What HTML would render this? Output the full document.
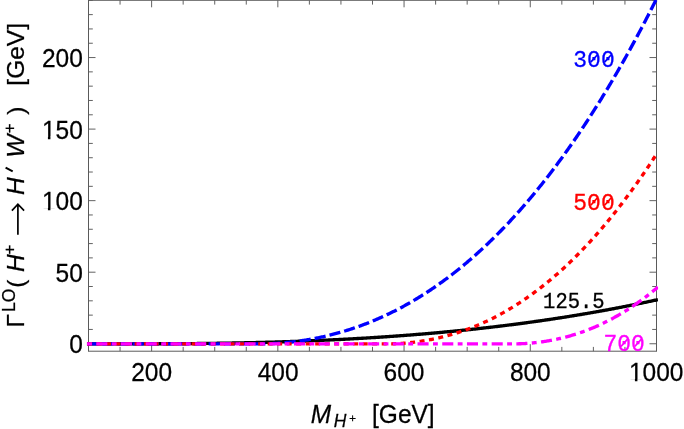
<!DOCTYPE html>
<html><head><title>Chart</title><meta charset="utf-8"><style>html,body{margin:0;padding:0;background:#fff}svg{display:block;will-change:transform}</style></head><body><svg width="684" height="429" viewBox="0 0 684 429">
<rect width="684" height="429" fill="#fff"/>
<path d="M88.50,351.20v-4.30M88.50,0.30v4.30M120.06,351.20v-4.30M120.06,0.30v4.30M151.61,351.20v-7.00M151.61,0.30v7.00M183.17,351.20v-4.30M183.17,0.30v4.30M214.72,351.20v-4.30M214.72,0.30v4.30M246.28,351.20v-4.30M246.28,0.30v4.30M277.83,351.20v-7.00M277.83,0.30v7.00M309.39,351.20v-4.30M309.39,0.30v4.30M340.94,351.20v-4.30M340.94,0.30v4.30M372.50,351.20v-4.30M372.50,0.30v4.30M404.06,351.20v-7.00M404.06,0.30v7.00M435.61,351.20v-4.30M435.61,0.30v4.30M467.17,351.20v-4.30M467.17,0.30v4.30M498.72,351.20v-4.30M498.72,0.30v4.30M530.28,351.20v-7.00M530.28,0.30v7.00M561.83,351.20v-4.30M561.83,0.30v4.30M593.39,351.20v-4.30M593.39,0.30v4.30M624.94,351.20v-4.30M624.94,0.30v4.30M656.50,351.20v-7.00M656.50,0.30v7.00M88.50,343.75h7.00M656.50,343.75h-7.00M88.50,329.44h4.30M656.50,329.44h-4.30M88.50,315.13h4.30M656.50,315.13h-4.30M88.50,300.82h4.30M656.50,300.82h-4.30M88.50,286.51h4.30M656.50,286.51h-4.30M88.50,272.20h7.00M656.50,272.20h-7.00M88.50,257.89h4.30M656.50,257.89h-4.30M88.50,243.58h4.30M656.50,243.58h-4.30M88.50,229.27h4.30M656.50,229.27h-4.30M88.50,214.96h4.30M656.50,214.96h-4.30M88.50,200.65h7.00M656.50,200.65h-7.00M88.50,186.34h4.30M656.50,186.34h-4.30M88.50,172.03h4.30M656.50,172.03h-4.30M88.50,157.72h4.30M656.50,157.72h-4.30M88.50,143.41h4.30M656.50,143.41h-4.30M88.50,129.10h7.00M656.50,129.10h-7.00M88.50,114.79h4.30M656.50,114.79h-4.30M88.50,100.48h4.30M656.50,100.48h-4.30M88.50,86.17h4.30M656.50,86.17h-4.30M88.50,71.86h4.30M656.50,71.86h-4.30M88.50,57.55h7.00M656.50,57.55h-7.00M88.50,43.24h4.30M656.50,43.24h-4.30M88.50,28.93h4.30M656.50,28.93h-4.30M88.50,14.62h4.30M656.50,14.62h-4.30M88.50,0.31h4.30M656.50,0.31h-4.30" stroke="#5a5a5a" stroke-width="0.95" fill="none"/>
<rect x="88.50" y="0.30" width="568.00" height="350.90" fill="none" stroke="#5a5a5a" stroke-width="1"/>
<clipPath id="c"><rect x="86.50" y="0" width="571.60" height="351.20"/></clipPath>
<g clip-path="url(#c)" fill="none" stroke-width="3.35">
<path d="M86.90,343.80 L87.85,343.80 L88.80,343.80 L89.76,343.80 L90.71,343.80 L91.66,343.80 L92.61,343.80 L93.56,343.80 L94.51,343.80 L95.47,343.80 L96.42,343.80 L97.37,343.80 L98.32,343.80 L99.27,343.80 L100.22,343.80 L101.18,343.80 L102.13,343.80 L103.08,343.80 L104.03,343.80 L104.98,343.80 L105.93,343.80 L106.89,343.80 L107.84,343.80 L108.79,343.80 L109.74,343.80 L110.69,343.80 L111.64,343.80 L112.59,343.80 L113.55,343.80 L114.50,343.80 L115.45,343.80 L116.40,343.80 L117.35,343.80 L118.31,343.80 L119.26,343.80 L120.21,343.80 L121.16,343.80 L122.11,343.80 L123.06,343.80 L124.02,343.80 L124.97,343.80 L125.92,343.80 L126.87,343.80 L127.82,343.80 L128.77,343.80 L129.73,343.80 L130.68,343.80 L131.63,343.80 L132.58,343.80 L133.53,343.80 L134.48,343.80 L135.44,343.80 L136.39,343.80 L137.34,343.80 L138.29,343.80 L139.24,343.80 L140.19,343.80 L141.15,343.80 L142.10,343.80 L143.05,343.80 L144.00,343.80 L144.95,343.80 L145.90,343.80 L146.86,343.80 L147.81,343.80 L148.76,343.80 L149.71,343.80 L150.66,343.80 L151.61,343.80 L152.56,343.80 L153.52,343.80 L154.47,343.80 L155.42,343.80 L156.37,343.80 L157.32,343.80 L158.28,343.80 L159.23,343.79 L160.18,343.79 L161.13,343.79 L162.08,343.79 L163.03,343.78 L163.99,343.78 L164.94,343.78 L165.89,343.77 L166.84,343.77 L167.79,343.77 L168.74,343.76 L169.69,343.76 L170.65,343.75 L171.60,343.75 L172.55,343.74 L173.50,343.74 L174.45,343.73 L175.41,343.73 L176.36,343.72 L177.31,343.71 L178.26,343.71 L179.21,343.70 L180.16,343.69 L181.12,343.69 L182.07,343.68 L183.02,343.67 L183.97,343.67 L184.92,343.66 L185.87,343.65 L186.82,343.64 L187.78,343.64 L188.73,343.63 L189.68,343.62 L190.63,343.61 L191.58,343.60 L192.54,343.59 L193.49,343.58 L194.44,343.57 L195.39,343.56 L196.34,343.55 L197.29,343.54 L198.25,343.53 L199.20,343.52 L200.15,343.51 L201.10,343.50 L202.05,343.49 L203.00,343.48 L203.96,343.47 L204.91,343.46 L205.86,343.45 L206.81,343.43 L207.76,343.42 L208.71,343.41 L209.67,343.40 L210.62,343.39 L211.57,343.37 L212.52,343.36 L213.47,343.35 L214.42,343.33 L215.38,343.32 L216.33,343.31 L217.28,343.29 L218.23,343.28 L219.18,343.26 L220.13,343.25 L221.09,343.23 L222.04,343.22 L222.99,343.20 L223.94,343.19 L224.89,343.17 L225.84,343.16 L226.80,343.14 L227.75,343.12 L228.70,343.11 L229.65,343.09 L230.60,343.07 L231.55,343.06 L232.50,343.04 L233.46,343.02 L234.41,343.00 L235.36,342.98 L236.31,342.97 L237.26,342.95 L238.22,342.93 L239.17,342.91 L240.12,342.89 L241.07,342.87 L242.02,342.85 L242.97,342.83 L243.93,342.81 L244.88,342.79 L245.83,342.77 L246.78,342.75 L247.73,342.73 L248.68,342.71 L249.64,342.69 L250.59,342.67 L251.54,342.64 L252.49,342.62 L253.44,342.60 L254.39,342.58 L255.34,342.55 L256.30,342.53 L257.25,342.51 L258.20,342.48 L259.15,342.46 L260.10,342.44 L261.06,342.41 L262.01,342.39 L262.96,342.36 L263.91,342.34 L264.86,342.31 L265.81,342.29 L266.76,342.26 L267.72,342.23 L268.67,342.21 L269.62,342.18 L270.57,342.15 L271.52,342.13 L272.48,342.10 L273.43,342.07 L274.38,342.05 L275.33,342.02 L276.28,341.99 L277.23,341.96 L278.19,341.93 L279.14,341.90 L280.09,341.87 L281.04,341.84 L281.99,341.81 L282.94,341.78 L283.89,341.75 L284.85,341.72 L285.80,341.69 L286.75,341.66 L287.70,341.63 L288.65,341.60 L289.61,341.56 L290.56,341.53 L291.51,341.50 L292.46,341.47 L293.41,341.43 L294.36,341.40 L295.31,341.37 L296.27,341.33 L297.22,341.30 L298.17,341.26 L299.12,341.23 L300.07,341.19 L301.02,341.16 L301.98,341.12 L302.93,341.09 L303.88,341.05 L304.83,341.02 L305.78,340.98 L306.74,340.94 L307.69,340.90 L308.64,340.87 L309.59,340.83 L310.54,340.79 L311.49,340.75 L312.44,340.71 L313.40,340.67 L314.35,340.63 L315.30,340.60 L316.25,340.56 L317.20,340.52 L318.15,340.47 L319.11,340.43 L320.06,340.39 L321.01,340.35 L321.96,340.31 L322.91,340.27 L323.87,340.22 L324.82,340.18 L325.77,340.14 L326.72,340.10 L327.67,340.05 L328.62,340.01 L329.58,339.96 L330.53,339.92 L331.48,339.88 L332.43,339.83 L333.38,339.78 L334.33,339.74 L335.28,339.69 L336.24,339.65 L337.19,339.60 L338.14,339.55 L339.09,339.51 L340.04,339.46 L341.00,339.41 L341.95,339.36 L342.90,339.31 L343.85,339.26 L344.80,339.21 L345.75,339.16 L346.71,339.11 L347.66,339.06 L348.61,339.01 L349.56,338.96 L350.51,338.91 L351.46,338.86 L352.41,338.81 L353.37,338.76 L354.32,338.70 L355.27,338.65 L356.22,338.60 L357.17,338.54 L358.12,338.49 L359.08,338.44 L360.03,338.38 L360.98,338.33 L361.93,338.27 L362.88,338.22 L363.84,338.16 L364.79,338.10 L365.74,338.05 L366.69,337.99 L367.64,337.93 L368.59,337.87 L369.54,337.82 L370.50,337.76 L371.45,337.70 L372.40,337.64 L373.35,337.58 L374.30,337.52 L375.25,337.46 L376.21,337.40 L377.16,337.34 L378.11,337.28 L379.06,337.22 L380.01,337.15 L380.97,337.09 L381.92,337.03 L382.87,336.97 L383.82,336.90 L384.77,336.84 L385.72,336.77 L386.67,336.71 L387.63,336.64 L388.58,336.58 L389.53,336.51 L390.48,336.45 L391.43,336.38 L392.38,336.31 L393.34,336.25 L394.29,336.18 L395.24,336.11 L396.19,336.04 L397.14,335.98 L398.10,335.91 L399.05,335.84 L400.00,335.77 L400.95,335.70 L401.90,335.63 L402.85,335.56 L403.80,335.48 L404.76,335.41 L405.71,335.34 L406.66,335.27 L407.61,335.20 L408.56,335.12 L409.51,335.05 L410.47,334.97 L411.42,334.90 L412.37,334.83 L413.32,334.75 L414.27,334.67 L415.23,334.60 L416.18,334.52 L417.13,334.45 L418.08,334.37 L419.03,334.29 L419.98,334.21 L420.94,334.13 L421.89,334.06 L422.84,333.98 L423.79,333.90 L424.74,333.82 L425.69,333.74 L426.64,333.66 L427.60,333.57 L428.55,333.49 L429.50,333.41 L430.45,333.33 L431.40,333.25 L432.36,333.16 L433.31,333.08 L434.26,332.99 L435.21,332.91 L436.16,332.83 L437.11,332.74 L438.07,332.65 L439.02,332.57 L439.97,332.48 L440.92,332.39 L441.87,332.31 L442.82,332.22 L443.77,332.13 L444.73,332.04 L445.68,331.95 L446.63,331.86 L447.58,331.77 L448.53,331.68 L449.49,331.59 L450.44,331.50 L451.39,331.41 L452.34,331.32 L453.29,331.22 L454.24,331.13 L455.20,331.04 L456.15,330.94 L457.10,330.85 L458.05,330.76 L459.00,330.66 L459.95,330.56 L460.90,330.47 L461.86,330.37 L462.81,330.27 L463.76,330.18 L464.71,330.08 L465.66,329.98 L466.62,329.88 L467.57,329.78 L468.52,329.68 L469.47,329.58 L470.42,329.48 L471.37,329.38 L472.33,329.28 L473.28,329.18 L474.23,329.08 L475.18,328.97 L476.13,328.87 L477.08,328.77 L478.03,328.66 L478.99,328.56 L479.94,328.45 L480.89,328.35 L481.84,328.24 L482.79,328.13 L483.75,328.03 L484.70,327.92 L485.65,327.81 L486.60,327.70 L487.55,327.59 L488.50,327.49 L489.46,327.38 L490.41,327.27 L491.36,327.15 L492.31,327.04 L493.26,326.93 L494.21,326.82 L495.16,326.71 L496.12,326.59 L497.07,326.48 L498.02,326.37 L498.97,326.25 L499.92,326.14 L500.88,326.02 L501.83,325.90 L502.78,325.79 L503.73,325.67 L504.68,325.55 L505.63,325.44 L506.59,325.32 L507.54,325.20 L508.49,325.08 L509.44,324.96 L510.39,324.84 L511.34,324.72 L512.29,324.60 L513.25,324.47 L514.20,324.35 L515.15,324.23 L516.10,324.11 L517.05,323.98 L518.00,323.86 L518.96,323.73 L519.91,323.61 L520.86,323.48 L521.81,323.36 L522.76,323.23 L523.72,323.10 L524.67,322.97 L525.62,322.85 L526.57,322.72 L527.52,322.59 L528.47,322.46 L529.42,322.33 L530.38,322.20 L531.33,322.06 L532.28,321.93 L533.23,321.80 L534.18,321.67 L535.13,321.53 L536.09,321.40 L537.04,321.26 L537.99,321.13 L538.94,320.99 L539.89,320.86 L540.85,320.72 L541.80,320.58 L542.75,320.45 L543.70,320.31 L544.65,320.17 L545.60,320.03 L546.55,319.89 L547.51,319.75 L548.46,319.61 L549.41,319.47 L550.36,319.33 L551.31,319.18 L552.26,319.04 L553.22,318.90 L554.17,318.75 L555.12,318.61 L556.07,318.46 L557.02,318.32 L557.98,318.17 L558.93,318.02 L559.88,317.88 L560.83,317.73 L561.78,317.58 L562.73,317.43 L563.69,317.28 L564.64,317.13 L565.59,316.98 L566.54,316.83 L567.49,316.68 L568.44,316.53 L569.39,316.37 L570.35,316.22 L571.30,316.07 L572.25,315.91 L573.20,315.76 L574.15,315.60 L575.11,315.45 L576.06,315.29 L577.01,315.13 L577.96,314.97 L578.91,314.82 L579.86,314.66 L580.82,314.50 L581.77,314.34 L582.72,314.18 L583.67,314.02 L584.62,313.85 L585.57,313.69 L586.52,313.53 L587.48,313.37 L588.43,313.20 L589.38,313.04 L590.33,312.87 L591.28,312.71 L592.24,312.54 L593.19,312.37 L594.14,312.21 L595.09,312.04 L596.04,311.87 L596.99,311.70 L597.95,311.53 L598.90,311.36 L599.85,311.19 L600.80,311.02 L601.75,310.85 L602.70,310.67 L603.65,310.50 L604.61,310.33 L605.56,310.15 L606.51,309.98 L607.46,309.80 L608.41,309.62 L609.37,309.45 L610.32,309.27 L611.27,309.09 L612.22,308.91 L613.17,308.73 L614.12,308.55 L615.07,308.37 L616.03,308.19 L616.98,308.01 L617.93,307.83 L618.88,307.65 L619.83,307.46 L620.78,307.28 L621.74,307.09 L622.69,306.91 L623.64,306.72 L624.59,306.54 L625.54,306.35 L626.50,306.16 L627.45,305.97 L628.40,305.79 L629.35,305.60 L630.30,305.41 L631.25,305.22 L632.20,305.02 L633.16,304.83 L634.11,304.64 L635.06,304.45 L636.01,304.25 L636.96,304.06 L637.91,303.86 L638.87,303.67 L639.82,303.47 L640.77,303.27 L641.72,303.08 L642.67,302.88 L643.62,302.68 L644.58,302.48 L645.53,302.28 L646.48,302.08 L647.43,301.88 L648.38,301.68 L649.33,301.47 L650.29,301.27 L651.24,301.07 L652.19,300.86 L653.14,300.66 L654.09,300.45 L655.04,300.25 L656.00,300.04 L656.95,299.83 L657.90,299.62" stroke="#000"/>
<path d="M86.90,343.80 L87.85,343.80 L88.80,343.80 L89.76,343.80 L90.71,343.80 L91.66,343.80 L92.61,343.80 L93.56,343.80 L94.51,343.80 L95.47,343.80 L96.42,343.80 L97.37,343.80 L98.32,343.80 L99.27,343.80 L100.22,343.80 L101.18,343.80 L102.13,343.80 L103.08,343.80 L104.03,343.80 L104.98,343.80 L105.93,343.80 L106.89,343.80 L107.84,343.80 L108.79,343.80 L109.74,343.80 L110.69,343.80 L111.64,343.80 L112.59,343.80 L113.55,343.80 L114.50,343.80 L115.45,343.80 L116.40,343.80 L117.35,343.80 L118.31,343.80 L119.26,343.80 L120.21,343.80 L121.16,343.80 L122.11,343.80 L123.06,343.80 L124.02,343.80 L124.97,343.80 L125.92,343.80 L126.87,343.80 L127.82,343.80 L128.77,343.80 L129.73,343.80 L130.68,343.80 L131.63,343.80 L132.58,343.80 L133.53,343.80 L134.48,343.80 L135.44,343.80 L136.39,343.80 L137.34,343.80 L138.29,343.80 L139.24,343.80 L140.19,343.80 L141.15,343.80 L142.10,343.80 L143.05,343.80 L144.00,343.80 L144.95,343.80 L145.90,343.80 L146.86,343.80 L147.81,343.80 L148.76,343.80 L149.71,343.80 L150.66,343.80 L151.61,343.80 L152.56,343.80 L153.52,343.80 L154.47,343.80 L155.42,343.80 L156.37,343.80 L157.32,343.80 L158.28,343.80 L159.23,343.80 L160.18,343.80 L161.13,343.80 L162.08,343.80 L163.03,343.80 L163.99,343.80 L164.94,343.80 L165.89,343.80 L166.84,343.80 L167.79,343.80 L168.74,343.80 L169.69,343.80 L170.65,343.80 L171.60,343.80 L172.55,343.80 L173.50,343.80 L174.45,343.80 L175.41,343.80 L176.36,343.80 L177.31,343.80 L178.26,343.80 L179.21,343.80 L180.16,343.80 L181.12,343.80 L182.07,343.80 L183.02,343.80 L183.97,343.80 L184.92,343.80 L185.87,343.80 L186.82,343.80 L187.78,343.80 L188.73,343.80 L189.68,343.80 L190.63,343.80 L191.58,343.80 L192.54,343.80 L193.49,343.80 L194.44,343.80 L195.39,343.80 L196.34,343.80 L197.29,343.80 L198.25,343.80 L199.20,343.80 L200.15,343.80 L201.10,343.80 L202.05,343.80 L203.00,343.80 L203.96,343.80 L204.91,343.80 L205.86,343.80 L206.81,343.80 L207.76,343.80 L208.71,343.80 L209.67,343.80 L210.62,343.80 L211.57,343.80 L212.52,343.80 L213.47,343.80 L214.42,343.80 L215.38,343.80 L216.33,343.80 L217.28,343.80 L218.23,343.80 L219.18,343.80 L220.13,343.80 L221.09,343.80 L222.04,343.80 L222.99,343.80 L223.94,343.80 L224.89,343.80 L225.84,343.80 L226.80,343.80 L227.75,343.80 L228.70,343.80 L229.65,343.80 L230.60,343.80 L231.55,343.80 L232.50,343.80 L233.46,343.80 L234.41,343.80 L235.36,343.80 L236.31,343.80 L237.26,343.80 L238.22,343.80 L239.17,343.80 L240.12,343.80 L241.07,343.80 L242.02,343.80 L242.97,343.80 L243.93,343.80 L244.88,343.80 L245.83,343.80 L246.78,343.80 L247.73,343.80 L248.68,343.80 L249.64,343.80 L250.59,343.80 L251.54,343.80 L252.49,343.80 L253.44,343.80 L254.39,343.80 L255.34,343.80 L256.30,343.80 L257.25,343.80 L258.20,343.80 L259.15,343.80 L260.10,343.80 L261.06,343.80 L262.01,343.80 L262.96,343.80 L263.91,343.80 L264.86,343.80 L265.81,343.80 L266.76,343.78 L267.72,343.76 L268.67,343.74 L269.62,343.71 L270.57,343.67 L271.52,343.63 L272.48,343.59 L273.43,343.54 L274.38,343.49 L275.33,343.44 L276.28,343.38 L277.23,343.32 L278.19,343.26 L279.14,343.19 L280.09,343.12 L281.04,343.05 L281.99,342.97 L282.94,342.89 L283.89,342.81 L284.85,342.72 L285.80,342.64 L286.75,342.54 L287.70,342.45 L288.65,342.35 L289.61,342.25 L290.56,342.15 L291.51,342.04 L292.46,341.93 L293.41,341.82 L294.36,341.70 L295.31,341.58 L296.27,341.46 L297.22,341.34 L298.17,341.21 L299.12,341.08 L300.07,340.94 L301.02,340.80 L301.98,340.66 L302.93,340.52 L303.88,340.37 L304.83,340.22 L305.78,340.07 L306.74,339.91 L307.69,339.75 L308.64,339.59 L309.59,339.43 L310.54,339.26 L311.49,339.09 L312.44,338.91 L313.40,338.73 L314.35,338.55 L315.30,338.37 L316.25,338.18 L317.20,337.99 L318.15,337.79 L319.11,337.60 L320.06,337.40 L321.01,337.19 L321.96,336.98 L322.91,336.77 L323.87,336.56 L324.82,336.34 L325.77,336.12 L326.72,335.90 L327.67,335.67 L328.62,335.44 L329.58,335.21 L330.53,334.97 L331.48,334.73 L332.43,334.49 L333.38,334.24 L334.33,333.99 L335.28,333.74 L336.24,333.49 L337.19,333.23 L338.14,332.96 L339.09,332.69 L340.04,332.42 L341.00,332.15 L341.95,331.87 L342.90,331.59 L343.85,331.31 L344.80,331.02 L345.75,330.73 L346.71,330.44 L347.66,330.14 L348.61,329.84 L349.56,329.53 L350.51,329.23 L351.46,328.92 L352.41,328.60 L353.37,328.28 L354.32,327.96 L355.27,327.63 L356.22,327.30 L357.17,326.97 L358.12,326.64 L359.08,326.30 L360.03,325.95 L360.98,325.60 L361.93,325.25 L362.88,324.90 L363.84,324.54 L364.79,324.18 L365.74,323.82 L366.69,323.45 L367.64,323.07 L368.59,322.70 L369.54,322.32 L370.50,321.93 L371.45,321.55 L372.40,321.16 L373.35,320.76 L374.30,320.36 L375.25,319.96 L376.21,319.56 L377.16,319.15 L378.11,318.73 L379.06,318.32 L380.01,317.90 L380.97,317.47 L381.92,317.04 L382.87,316.61 L383.82,316.18 L384.77,315.74 L385.72,315.29 L386.67,314.84 L387.63,314.39 L388.58,313.94 L389.53,313.48 L390.48,313.02 L391.43,312.55 L392.38,312.08 L393.34,311.61 L394.29,311.13 L395.24,310.65 L396.19,310.16 L397.14,309.67 L398.10,309.18 L399.05,308.68 L400.00,308.18 L400.95,307.67 L401.90,307.16 L402.85,306.65 L403.80,306.13 L404.76,305.61 L405.71,305.08 L406.66,304.55 L407.61,304.02 L408.56,303.48 L409.51,302.94 L410.47,302.39 L411.42,301.84 L412.37,301.29 L413.32,300.73 L414.27,300.17 L415.23,299.60 L416.18,299.03 L417.13,298.46 L418.08,297.88 L419.03,297.30 L419.98,296.71 L420.94,296.12 L421.89,295.52 L422.84,294.92 L423.79,294.32 L424.74,293.71 L425.69,293.10 L426.64,292.49 L427.60,291.86 L428.55,291.24 L429.50,290.61 L430.45,289.98 L431.40,289.34 L432.36,288.70 L433.31,288.05 L434.26,287.40 L435.21,286.75 L436.16,286.09 L437.11,285.43 L438.07,284.76 L439.02,284.09 L439.97,283.41 L440.92,282.73 L441.87,282.05 L442.82,281.36 L443.77,280.67 L444.73,279.97 L445.68,279.27 L446.63,278.56 L447.58,277.85 L448.53,277.14 L449.49,276.42 L450.44,275.69 L451.39,274.96 L452.34,274.23 L453.29,273.49 L454.24,272.75 L455.20,272.01 L456.15,271.26 L457.10,270.50 L458.05,269.74 L459.00,268.98 L459.95,268.21 L460.90,267.43 L461.86,266.66 L462.81,265.87 L463.76,265.09 L464.71,264.30 L465.66,263.50 L466.62,262.70 L467.57,261.89 L468.52,261.08 L469.47,260.27 L470.42,259.45 L471.37,258.63 L472.33,257.80 L473.28,256.97 L474.23,256.13 L475.18,255.29 L476.13,254.44 L477.08,253.59 L478.03,252.73 L478.99,251.87 L479.94,251.00 L480.89,250.13 L481.84,249.26 L482.79,248.38 L483.75,247.49 L484.70,246.60 L485.65,245.71 L486.60,244.81 L487.55,243.91 L488.50,243.00 L489.46,242.09 L490.41,241.17 L491.36,240.24 L492.31,239.32 L493.26,238.38 L494.21,237.45 L495.16,236.50 L496.12,235.56 L497.07,234.61 L498.02,233.65 L498.97,232.69 L499.92,231.72 L500.88,230.75 L501.83,229.77 L502.78,228.79 L503.73,227.80 L504.68,226.81 L505.63,225.82 L506.59,224.81 L507.54,223.81 L508.49,222.80 L509.44,221.78 L510.39,220.76 L511.34,219.73 L512.29,218.70 L513.25,217.67 L514.20,216.62 L515.15,215.58 L516.10,214.53 L517.05,213.47 L518.00,212.41 L518.96,211.34 L519.91,210.27 L520.86,209.19 L521.81,208.11 L522.76,207.02 L523.72,205.93 L524.67,204.83 L525.62,203.73 L526.57,202.62 L527.52,201.51 L528.47,200.39 L529.42,199.27 L530.38,198.14 L531.33,197.01 L532.28,195.87 L533.23,194.73 L534.18,193.58 L535.13,192.42 L536.09,191.26 L537.04,190.10 L537.99,188.93 L538.94,187.75 L539.89,186.57 L540.85,185.38 L541.80,184.19 L542.75,183.00 L543.70,181.79 L544.65,180.59 L545.60,179.37 L546.55,178.15 L547.51,176.93 L548.46,175.70 L549.41,174.47 L550.36,173.23 L551.31,171.98 L552.26,170.73 L553.22,169.48 L554.17,168.21 L555.12,166.95 L556.07,165.68 L557.02,164.40 L557.98,163.11 L558.93,161.83 L559.88,160.53 L560.83,159.23 L561.78,157.93 L562.73,156.62 L563.69,155.30 L564.64,153.98 L565.59,152.65 L566.54,151.32 L567.49,149.98 L568.44,148.64 L569.39,147.29 L570.35,145.93 L571.30,144.57 L572.25,143.20 L573.20,141.83 L574.15,140.45 L575.11,139.07 L576.06,137.68 L577.01,136.29 L577.96,134.89 L578.91,133.48 L579.86,132.07 L580.82,130.65 L581.77,129.23 L582.72,127.80 L583.67,126.37 L584.62,124.93 L585.57,123.48 L586.52,122.03 L587.48,120.57 L588.43,119.11 L589.38,117.64 L590.33,116.17 L591.28,114.69 L592.24,113.20 L593.19,111.71 L594.14,110.21 L595.09,108.71 L596.04,107.20 L596.99,105.68 L597.95,104.16 L598.90,102.63 L599.85,101.10 L600.80,99.56 L601.75,98.01 L602.70,96.46 L603.65,94.91 L604.61,93.34 L605.56,91.78 L606.51,90.20 L607.46,88.62 L608.41,87.04 L609.37,85.44 L610.32,83.84 L611.27,82.24 L612.22,80.63 L613.17,79.01 L614.12,77.39 L615.07,75.76 L616.03,74.13 L616.98,72.49 L617.93,70.84 L618.88,69.19 L619.83,67.53 L620.78,65.87 L621.74,64.19 L622.69,62.52 L623.64,60.83 L624.59,59.14 L625.54,57.45 L626.50,55.75 L627.45,54.04 L628.40,52.33 L629.35,50.61 L630.30,48.88 L631.25,47.15 L632.20,45.41 L633.16,43.66 L634.11,41.91 L635.06,40.16 L636.01,38.39 L636.96,36.62 L637.91,34.85 L638.87,33.06 L639.82,31.28 L640.77,29.48 L641.72,27.68 L642.67,25.87 L643.62,24.06 L644.58,22.24 L645.53,20.41 L646.48,18.58 L647.43,16.74 L648.38,14.90 L649.33,13.04 L650.29,11.19 L651.24,9.32 L652.19,7.45 L653.14,5.57 L654.09,3.69 L655.04,1.80 L656.00,-0.10 L656.95,-2.00 L657.90,-3.91" stroke="#00f" stroke-dasharray="11.2 4.0" stroke-dashoffset="-0.1"/>
<path d="M86.90,343.80 L87.85,343.80 L88.80,343.80 L89.75,343.80 L90.70,343.80 L91.65,343.80 L92.61,343.80 L93.56,343.80 L94.51,343.80 L95.46,343.80 L96.41,343.80 L97.36,343.80 L98.31,343.80 L99.26,343.80 L100.21,343.80 L101.16,343.80 L102.11,343.80 L103.06,343.80 L104.02,343.80 L104.97,343.80 L105.92,343.80 L106.87,343.80 L107.82,343.80 L108.77,343.80 L109.72,343.80 L110.67,343.80 L111.62,343.80 L112.57,343.80 L113.52,343.80 L114.47,343.80 L115.43,343.80 L116.38,343.80 L117.33,343.80 L118.28,343.80 L119.23,343.80 L120.18,343.80 L121.13,343.80 L122.08,343.80 L123.03,343.80 L123.98,343.80 L124.93,343.80 L125.88,343.80 L126.84,343.80 L127.79,343.80 L128.74,343.80 L129.69,343.80 L130.64,343.80 L131.59,343.80 L132.54,343.80 L133.49,343.80 L134.44,343.80 L135.39,343.80 L136.34,343.80 L137.29,343.80 L138.25,343.80 L139.20,343.80 L140.15,343.80 L141.10,343.80 L142.05,343.80 L143.00,343.80 L143.95,343.80 L144.90,343.80 L145.85,343.80 L146.80,343.80 L147.75,343.80 L148.70,343.80 L149.66,343.80 L150.61,343.80 L151.56,343.80 L152.51,343.80 L153.46,343.80 L154.41,343.80 L155.36,343.80 L156.31,343.80 L157.26,343.80 L158.21,343.80 L159.16,343.80 L160.11,343.80 L161.06,343.80 L162.02,343.80 L162.97,343.80 L163.92,343.80 L164.87,343.80 L165.82,343.80 L166.77,343.80 L167.72,343.80 L168.67,343.80 L169.62,343.80 L170.57,343.80 L171.52,343.80 L172.48,343.80 L173.43,343.80 L174.38,343.80 L175.33,343.80 L176.28,343.80 L177.23,343.80 L178.18,343.80 L179.13,343.80 L180.08,343.80 L181.03,343.80 L181.98,343.80 L182.93,343.80 L183.88,343.80 L184.84,343.80 L185.79,343.80 L186.74,343.80 L187.69,343.80 L188.64,343.80 L189.59,343.80 L190.54,343.80 L191.49,343.80 L192.44,343.80 L193.39,343.80 L194.34,343.80 L195.30,343.80 L196.25,343.80 L197.20,343.80 L198.15,343.80 L199.10,343.80 L200.05,343.80 L201.00,343.80 L201.95,343.80 L202.90,343.80 L203.85,343.80 L204.80,343.80 L205.75,343.80 L206.71,343.80 L207.66,343.80 L208.61,343.80 L209.56,343.80 L210.51,343.80 L211.46,343.80 L212.41,343.80 L213.36,343.80 L214.31,343.80 L215.26,343.80 L216.21,343.80 L217.16,343.80 L218.12,343.80 L219.07,343.80 L220.02,343.80 L220.97,343.80 L221.92,343.80 L222.87,343.80 L223.82,343.80 L224.77,343.80 L225.72,343.80 L226.67,343.80 L227.62,343.80 L228.57,343.80 L229.53,343.80 L230.48,343.80 L231.43,343.80 L232.38,343.80 L233.33,343.80 L234.28,343.80 L235.23,343.80 L236.18,343.80 L237.13,343.80 L238.08,343.80 L239.03,343.80 L239.98,343.80 L240.94,343.80 L241.89,343.80 L242.84,343.80 L243.79,343.80 L244.74,343.80 L245.69,343.80 L246.64,343.80 L247.59,343.80 L248.54,343.80 L249.49,343.80 L250.44,343.80 L251.39,343.80 L252.34,343.80 L253.30,343.80 L254.25,343.80 L255.20,343.80 L256.15,343.80 L257.10,343.80 L258.05,343.80 L259.00,343.80 L259.95,343.80 L260.90,343.80 L261.85,343.80 L262.80,343.80 L263.75,343.80 L264.71,343.80 L265.66,343.80 L266.61,343.80 L267.56,343.80 L268.51,343.80 L269.46,343.80 L270.41,343.80 L271.36,343.80 L272.31,343.80 L273.26,343.80 L274.21,343.80 L275.16,343.80 L276.12,343.80 L277.07,343.80 L278.02,343.80 L278.97,343.80 L279.92,343.80 L280.87,343.80 L281.82,343.80 L282.77,343.80 L283.72,343.80 L284.67,343.80 L285.62,343.80 L286.58,343.80 L287.53,343.80 L288.48,343.80 L289.43,343.80 L290.38,343.80 L291.33,343.80 L292.28,343.80 L293.23,343.80 L294.18,343.80 L295.13,343.80 L296.08,343.80 L297.03,343.80 L297.99,343.80 L298.94,343.80 L299.89,343.80 L300.84,343.80 L301.79,343.80 L302.74,343.80 L303.69,343.80 L304.64,343.80 L305.59,343.80 L306.54,343.80 L307.49,343.80 L308.44,343.80 L309.39,343.80 L310.35,343.80 L311.30,343.80 L312.25,343.80 L313.20,343.80 L314.15,343.80 L315.10,343.80 L316.05,343.80 L317.00,343.80 L317.95,343.80 L318.90,343.80 L319.85,343.80 L320.81,343.80 L321.76,343.80 L322.71,343.80 L323.66,343.80 L324.61,343.80 L325.56,343.80 L326.51,343.80 L327.46,343.80 L328.41,343.80 L329.36,343.80 L330.31,343.80 L331.26,343.80 L332.22,343.80 L333.17,343.80 L334.12,343.80 L335.07,343.80 L336.02,343.80 L336.97,343.80 L337.92,343.80 L338.87,343.80 L339.82,343.80 L340.77,343.80 L341.72,343.80 L342.67,343.80 L343.62,343.80 L344.58,343.80 L345.53,343.80 L346.48,343.80 L347.43,343.80 L348.38,343.80 L349.33,343.80 L350.28,343.80 L351.23,343.80 L352.18,343.80 L353.13,343.80 L354.08,343.80 L355.03,343.80 L355.99,343.80 L356.94,343.80 L357.89,343.80 L358.84,343.80 L359.79,343.80 L360.74,343.80 L361.69,343.80 L362.64,343.80 L363.59,343.80 L364.54,343.80 L365.49,343.80 L366.45,343.80 L367.40,343.80 L368.35,343.80 L369.30,343.80 L370.25,343.80 L371.20,343.80 L372.15,343.80 L373.10,343.80 L374.05,343.80 L375.00,343.80 L375.95,343.80 L376.90,343.80 L377.86,343.80 L378.81,343.80 L379.76,343.80 L380.71,343.80 L381.66,343.80 L382.61,343.80 L383.56,343.80 L384.51,343.80 L385.46,343.80 L386.41,343.80 L387.36,343.80 L388.31,343.80 L389.26,343.80 L390.22,343.80 L391.17,343.80 L392.12,343.80 L393.07,343.78 L394.02,343.76 L394.97,343.72 L395.92,343.69 L396.87,343.65 L397.82,343.60 L398.77,343.55 L399.72,343.50 L400.67,343.44 L401.63,343.38 L402.58,343.31 L403.53,343.24 L404.48,343.16 L405.43,343.08 L406.38,343.00 L407.33,342.91 L408.28,342.82 L409.23,342.73 L410.18,342.63 L411.13,342.53 L412.09,342.42 L413.04,342.31 L413.99,342.20 L414.94,342.08 L415.89,341.96 L416.84,341.84 L417.79,341.71 L418.74,341.57 L419.69,341.44 L420.64,341.30 L421.59,341.15 L422.54,341.00 L423.50,340.85 L424.45,340.69 L425.40,340.53 L426.35,340.37 L427.30,340.20 L428.25,340.03 L429.20,339.85 L430.15,339.67 L431.10,339.49 L432.05,339.30 L433.00,339.11 L433.95,338.91 L434.90,338.71 L435.86,338.50 L436.81,338.30 L437.76,338.08 L438.71,337.87 L439.66,337.64 L440.61,337.42 L441.56,337.19 L442.51,336.95 L443.46,336.72 L444.41,336.47 L445.36,336.23 L446.32,335.98 L447.27,335.72 L448.22,335.46 L449.17,335.20 L450.12,334.93 L451.07,334.66 L452.02,334.38 L452.97,334.10 L453.92,333.81 L454.87,333.52 L455.82,333.23 L456.77,332.93 L457.73,332.62 L458.68,332.32 L459.63,332.00 L460.58,331.69 L461.53,331.37 L462.48,331.04 L463.43,330.71 L464.38,330.38 L465.33,330.04 L466.28,329.69 L467.23,329.34 L468.18,328.99 L469.13,328.63 L470.09,328.27 L471.04,327.90 L471.99,327.53 L472.94,327.16 L473.89,326.78 L474.84,326.39 L475.79,326.00 L476.74,325.61 L477.69,325.21 L478.64,324.80 L479.59,324.39 L480.54,323.98 L481.50,323.56 L482.45,323.14 L483.40,322.71 L484.35,322.28 L485.30,321.84 L486.25,321.40 L487.20,320.95 L488.15,320.50 L489.10,320.04 L490.05,319.58 L491.00,319.11 L491.96,318.64 L492.91,318.16 L493.86,317.68 L494.81,317.20 L495.76,316.70 L496.71,316.21 L497.66,315.71 L498.61,315.20 L499.56,314.69 L500.51,314.17 L501.46,313.65 L502.41,313.13 L503.37,312.59 L504.32,312.06 L505.27,311.52 L506.22,310.97 L507.17,310.42 L508.12,309.86 L509.07,309.30 L510.02,308.73 L510.97,308.16 L511.92,307.59 L512.87,307.00 L513.82,306.42 L514.77,305.82 L515.73,305.23 L516.68,304.62 L517.63,304.02 L518.58,303.40 L519.53,302.78 L520.48,302.16 L521.43,301.53 L522.38,300.90 L523.33,300.26 L524.28,299.61 L525.23,298.96 L526.19,298.31 L527.14,297.65 L528.09,296.98 L529.04,296.31 L529.99,295.63 L530.94,294.95 L531.89,294.27 L532.84,293.57 L533.79,292.88 L534.74,292.17 L535.69,291.46 L536.64,290.75 L537.60,290.03 L538.55,289.31 L539.50,288.58 L540.45,287.84 L541.40,287.10 L542.35,286.35 L543.30,285.60 L544.25,284.84 L545.20,284.08 L546.15,283.31 L547.10,282.54 L548.05,281.76 L549.00,280.97 L549.96,280.18 L550.91,279.38 L551.86,278.58 L552.81,277.78 L553.76,276.96 L554.71,276.14 L555.66,275.32 L556.61,274.49 L557.56,273.65 L558.51,272.81 L559.46,271.97 L560.41,271.11 L561.37,270.26 L562.32,269.39 L563.27,268.52 L564.22,267.65 L565.17,266.77 L566.12,265.88 L567.07,264.99 L568.02,264.09 L568.97,263.19 L569.92,262.28 L570.87,261.36 L571.83,260.44 L572.78,259.52 L573.73,258.58 L574.68,257.64 L575.63,256.70 L576.58,255.75 L577.53,254.80 L578.48,253.83 L579.43,252.87 L580.38,251.89 L581.33,250.91 L582.28,249.93 L583.24,248.94 L584.19,247.94 L585.14,246.94 L586.09,245.93 L587.04,244.92 L587.99,243.89 L588.94,242.87 L589.89,241.84 L590.84,240.80 L591.79,239.75 L592.74,238.70 L593.69,237.65 L594.64,236.58 L595.60,235.52 L596.55,234.44 L597.50,233.36 L598.45,232.28 L599.40,231.18 L600.35,230.08 L601.30,228.98 L602.25,227.87 L603.20,226.75 L604.15,225.63 L605.10,224.50 L606.05,223.37 L607.01,222.23 L607.96,221.08 L608.91,219.92 L609.86,218.77 L610.81,217.60 L611.76,216.43 L612.71,215.25 L613.66,214.07 L614.61,212.88 L615.56,211.68 L616.51,210.48 L617.47,209.27 L618.42,208.05 L619.37,206.83 L620.32,205.60 L621.27,204.37 L622.22,203.13 L623.17,201.88 L624.12,200.63 L625.07,199.37 L626.02,198.10 L626.97,196.83 L627.92,195.55 L628.88,194.27 L629.83,192.98 L630.78,191.68 L631.73,190.38 L632.68,189.07 L633.63,187.75 L634.58,186.43 L635.53,185.10 L636.48,183.76 L637.43,182.42 L638.38,181.07 L639.33,179.72 L640.28,178.36 L641.24,176.99 L642.19,175.62 L643.14,174.24 L644.09,172.85 L645.04,171.46 L645.99,170.06 L646.94,168.65 L647.89,167.24 L648.84,165.82 L649.79,164.39 L650.74,162.96 L651.69,161.52 L652.65,160.07 L653.60,158.62 L654.55,157.16 L655.50,155.70 L656.45,154.22 L657.40,152.74" stroke="#f00" stroke-dasharray="5 4.503" stroke-dashoffset="-0.2"/>
<path d="M86.90,343.80 L87.85,343.80 L88.80,343.80 L89.76,343.80 L90.71,343.80 L91.66,343.80 L92.61,343.80 L93.56,343.80 L94.51,343.80 L95.47,343.80 L96.42,343.80 L97.37,343.80 L98.32,343.80 L99.27,343.80 L100.22,343.80 L101.18,343.80 L102.13,343.80 L103.08,343.80 L104.03,343.80 L104.98,343.80 L105.93,343.80 L106.89,343.80 L107.84,343.80 L108.79,343.80 L109.74,343.80 L110.69,343.80 L111.64,343.80 L112.59,343.80 L113.55,343.80 L114.50,343.80 L115.45,343.80 L116.40,343.80 L117.35,343.80 L118.31,343.80 L119.26,343.80 L120.21,343.80 L121.16,343.80 L122.11,343.80 L123.06,343.80 L124.02,343.80 L124.97,343.80 L125.92,343.80 L126.87,343.80 L127.82,343.80 L128.77,343.80 L129.73,343.80 L130.68,343.80 L131.63,343.80 L132.58,343.80 L133.53,343.80 L134.48,343.80 L135.44,343.80 L136.39,343.80 L137.34,343.80 L138.29,343.80 L139.24,343.80 L140.19,343.80 L141.15,343.80 L142.10,343.80 L143.05,343.80 L144.00,343.80 L144.95,343.80 L145.90,343.80 L146.86,343.80 L147.81,343.80 L148.76,343.80 L149.71,343.80 L150.66,343.80 L151.61,343.80 L152.56,343.80 L153.52,343.80 L154.47,343.80 L155.42,343.80 L156.37,343.80 L157.32,343.80 L158.28,343.80 L159.23,343.80 L160.18,343.80 L161.13,343.80 L162.08,343.80 L163.03,343.80 L163.99,343.80 L164.94,343.80 L165.89,343.80 L166.84,343.80 L167.79,343.80 L168.74,343.80 L169.69,343.80 L170.65,343.80 L171.60,343.80 L172.55,343.80 L173.50,343.80 L174.45,343.80 L175.41,343.80 L176.36,343.80 L177.31,343.80 L178.26,343.80 L179.21,343.80 L180.16,343.80 L181.12,343.80 L182.07,343.80 L183.02,343.80 L183.97,343.80 L184.92,343.80 L185.87,343.80 L186.82,343.80 L187.78,343.80 L188.73,343.80 L189.68,343.80 L190.63,343.80 L191.58,343.80 L192.54,343.80 L193.49,343.80 L194.44,343.80 L195.39,343.80 L196.34,343.80 L197.29,343.80 L198.25,343.80 L199.20,343.80 L200.15,343.80 L201.10,343.80 L202.05,343.80 L203.00,343.80 L203.96,343.80 L204.91,343.80 L205.86,343.80 L206.81,343.80 L207.76,343.80 L208.71,343.80 L209.67,343.80 L210.62,343.80 L211.57,343.80 L212.52,343.80 L213.47,343.80 L214.42,343.80 L215.38,343.80 L216.33,343.80 L217.28,343.80 L218.23,343.80 L219.18,343.80 L220.13,343.80 L221.09,343.80 L222.04,343.80 L222.99,343.80 L223.94,343.80 L224.89,343.80 L225.84,343.80 L226.80,343.80 L227.75,343.80 L228.70,343.80 L229.65,343.80 L230.60,343.80 L231.55,343.80 L232.50,343.80 L233.46,343.80 L234.41,343.80 L235.36,343.80 L236.31,343.80 L237.26,343.80 L238.22,343.80 L239.17,343.80 L240.12,343.80 L241.07,343.80 L242.02,343.80 L242.97,343.80 L243.93,343.80 L244.88,343.80 L245.83,343.80 L246.78,343.80 L247.73,343.80 L248.68,343.80 L249.64,343.80 L250.59,343.80 L251.54,343.80 L252.49,343.80 L253.44,343.80 L254.39,343.80 L255.34,343.80 L256.30,343.80 L257.25,343.80 L258.20,343.80 L259.15,343.80 L260.10,343.80 L261.06,343.80 L262.01,343.80 L262.96,343.80 L263.91,343.80 L264.86,343.80 L265.81,343.80 L266.76,343.80 L267.72,343.80 L268.67,343.80 L269.62,343.80 L270.57,343.80 L271.52,343.80 L272.48,343.80 L273.43,343.80 L274.38,343.80 L275.33,343.80 L276.28,343.80 L277.23,343.80 L278.19,343.80 L279.14,343.80 L280.09,343.80 L281.04,343.80 L281.99,343.80 L282.94,343.80 L283.89,343.80 L284.85,343.80 L285.80,343.80 L286.75,343.80 L287.70,343.80 L288.65,343.80 L289.61,343.80 L290.56,343.80 L291.51,343.80 L292.46,343.80 L293.41,343.80 L294.36,343.80 L295.31,343.80 L296.27,343.80 L297.22,343.80 L298.17,343.80 L299.12,343.80 L300.07,343.80 L301.02,343.80 L301.98,343.80 L302.93,343.80 L303.88,343.80 L304.83,343.80 L305.78,343.80 L306.74,343.80 L307.69,343.80 L308.64,343.80 L309.59,343.80 L310.54,343.80 L311.49,343.80 L312.44,343.80 L313.40,343.80 L314.35,343.80 L315.30,343.80 L316.25,343.80 L317.20,343.80 L318.15,343.80 L319.11,343.80 L320.06,343.80 L321.01,343.80 L321.96,343.80 L322.91,343.80 L323.87,343.80 L324.82,343.80 L325.77,343.80 L326.72,343.80 L327.67,343.80 L328.62,343.80 L329.58,343.80 L330.53,343.80 L331.48,343.80 L332.43,343.80 L333.38,343.80 L334.33,343.80 L335.28,343.80 L336.24,343.80 L337.19,343.80 L338.14,343.80 L339.09,343.80 L340.04,343.80 L341.00,343.80 L341.95,343.80 L342.90,343.80 L343.85,343.80 L344.80,343.80 L345.75,343.80 L346.71,343.80 L347.66,343.80 L348.61,343.80 L349.56,343.80 L350.51,343.80 L351.46,343.80 L352.41,343.80 L353.37,343.80 L354.32,343.80 L355.27,343.80 L356.22,343.80 L357.17,343.80 L358.12,343.80 L359.08,343.80 L360.03,343.80 L360.98,343.80 L361.93,343.80 L362.88,343.80 L363.84,343.80 L364.79,343.80 L365.74,343.80 L366.69,343.80 L367.64,343.80 L368.59,343.80 L369.54,343.80 L370.50,343.80 L371.45,343.80 L372.40,343.80 L373.35,343.80 L374.30,343.80 L375.25,343.80 L376.21,343.80 L377.16,343.80 L378.11,343.80 L379.06,343.80 L380.01,343.80 L380.97,343.80 L381.92,343.80 L382.87,343.80 L383.82,343.80 L384.77,343.80 L385.72,343.80 L386.67,343.80 L387.63,343.80 L388.58,343.80 L389.53,343.80 L390.48,343.80 L391.43,343.80 L392.38,343.80 L393.34,343.80 L394.29,343.80 L395.24,343.80 L396.19,343.80 L397.14,343.80 L398.10,343.80 L399.05,343.80 L400.00,343.80 L400.95,343.80 L401.90,343.80 L402.85,343.80 L403.80,343.80 L404.76,343.80 L405.71,343.80 L406.66,343.80 L407.61,343.80 L408.56,343.80 L409.51,343.80 L410.47,343.80 L411.42,343.80 L412.37,343.80 L413.32,343.80 L414.27,343.80 L415.23,343.80 L416.18,343.80 L417.13,343.80 L418.08,343.80 L419.03,343.80 L419.98,343.80 L420.94,343.80 L421.89,343.80 L422.84,343.80 L423.79,343.80 L424.74,343.80 L425.69,343.80 L426.64,343.80 L427.60,343.80 L428.55,343.80 L429.50,343.80 L430.45,343.80 L431.40,343.80 L432.36,343.80 L433.31,343.80 L434.26,343.80 L435.21,343.80 L436.16,343.80 L437.11,343.80 L438.07,343.80 L439.02,343.80 L439.97,343.80 L440.92,343.80 L441.87,343.80 L442.82,343.80 L443.77,343.80 L444.73,343.80 L445.68,343.80 L446.63,343.80 L447.58,343.80 L448.53,343.80 L449.49,343.80 L450.44,343.80 L451.39,343.80 L452.34,343.80 L453.29,343.80 L454.24,343.80 L455.20,343.80 L456.15,343.80 L457.10,343.80 L458.05,343.80 L459.00,343.80 L459.95,343.80 L460.90,343.80 L461.86,343.80 L462.81,343.80 L463.76,343.80 L464.71,343.80 L465.66,343.80 L466.62,343.80 L467.57,343.80 L468.52,343.80 L469.47,343.80 L470.42,343.80 L471.37,343.80 L472.33,343.80 L473.28,343.80 L474.23,343.80 L475.18,343.80 L476.13,343.80 L477.08,343.80 L478.03,343.80 L478.99,343.80 L479.94,343.80 L480.89,343.80 L481.84,343.80 L482.79,343.80 L483.75,343.80 L484.70,343.80 L485.65,343.80 L486.60,343.80 L487.55,343.80 L488.50,343.80 L489.46,343.80 L490.41,343.80 L491.36,343.80 L492.31,343.80 L493.26,343.80 L494.21,343.80 L495.16,343.80 L496.12,343.80 L497.07,343.80 L498.02,343.80 L498.97,343.80 L499.92,343.80 L500.88,343.80 L501.83,343.80 L502.78,343.80 L503.73,343.80 L504.68,343.80 L505.63,343.80 L506.59,343.80 L507.54,343.80 L508.49,343.80 L509.44,343.80 L510.39,343.80 L511.34,343.80 L512.29,343.80 L513.25,343.80 L514.20,343.80 L515.15,343.80 L516.10,343.80 L517.05,343.80 L518.00,343.80 L518.96,343.79 L519.91,343.76 L520.86,343.73 L521.81,343.70 L522.76,343.65 L523.72,343.61 L524.67,343.55 L525.62,343.50 L526.57,343.43 L527.52,343.37 L528.47,343.30 L529.42,343.22 L530.38,343.14 L531.33,343.06 L532.28,342.97 L533.23,342.88 L534.18,342.78 L535.13,342.68 L536.09,342.58 L537.04,342.47 L537.99,342.35 L538.94,342.23 L539.89,342.11 L540.85,341.98 L541.80,341.85 L542.75,341.72 L543.70,341.58 L544.65,341.43 L545.60,341.28 L546.55,341.13 L547.51,340.97 L548.46,340.81 L549.41,340.64 L550.36,340.47 L551.31,340.29 L552.26,340.11 L553.22,339.93 L554.17,339.74 L555.12,339.54 L556.07,339.35 L557.02,339.14 L557.98,338.93 L558.93,338.72 L559.88,338.50 L560.83,338.28 L561.78,338.05 L562.73,337.82 L563.69,337.58 L564.64,337.34 L565.59,337.10 L566.54,336.85 L567.49,336.59 L568.44,336.33 L569.39,336.06 L570.35,335.79 L571.30,335.51 L572.25,335.23 L573.20,334.95 L574.15,334.66 L575.11,334.36 L576.06,334.06 L577.01,333.75 L577.96,333.44 L578.91,333.12 L579.86,332.80 L580.82,332.47 L581.77,332.14 L582.72,331.81 L583.67,331.46 L584.62,331.11 L585.57,330.76 L586.52,330.40 L587.48,330.04 L588.43,329.67 L589.38,329.29 L590.33,328.91 L591.28,328.53 L592.24,328.14 L593.19,327.74 L594.14,327.34 L595.09,326.93 L596.04,326.52 L596.99,326.10 L597.95,325.68 L598.90,325.25 L599.85,324.81 L600.80,324.37 L601.75,323.93 L602.70,323.48 L603.65,323.02 L604.61,322.56 L605.56,322.09 L606.51,321.61 L607.46,321.13 L608.41,320.65 L609.37,320.16 L610.32,319.66 L611.27,319.16 L612.22,318.65 L613.17,318.13 L614.12,317.61 L615.07,317.09 L616.03,316.55 L616.98,316.02 L617.93,315.47 L618.88,314.92 L619.83,314.37 L620.78,313.80 L621.74,313.24 L622.69,312.66 L623.64,312.08 L624.59,311.50 L625.54,310.91 L626.50,310.31 L627.45,309.71 L628.40,309.10 L629.35,308.48 L630.30,307.86 L631.25,307.23 L632.20,306.60 L633.16,305.96 L634.11,305.31 L635.06,304.66 L636.01,304.00 L636.96,303.33 L637.91,302.66 L638.87,301.98 L639.82,301.30 L640.77,300.61 L641.72,299.91 L642.67,299.21 L643.62,298.50 L644.58,297.79 L645.53,297.06 L646.48,296.34 L647.43,295.60 L648.38,294.86 L649.33,294.11 L650.29,293.36 L651.24,292.60 L652.19,291.84 L653.14,291.06 L654.09,290.28 L655.04,289.50 L656.00,288.71 L656.95,287.91 L657.90,287.10" stroke="#f0f" stroke-dasharray="4.85 4.4 11.06 4.4" stroke-dashoffset="-0.15"/>
</g>
<g font-family="'Liberation Sans', sans-serif" fill="#000" stroke="#000" stroke-width="0.25">
<text transform="translate(131.15,381.25) scale(1,1.04)" font-size="24.5">200</text>
<text transform="translate(257.68,381.25) scale(1,1.04)" font-size="24.5">400</text>
<text transform="translate(383.59,381.25) scale(1,1.04)" font-size="24.5">600</text>
<text transform="translate(509.88,381.25) scale(1,1.04)" font-size="24.5">800</text>
<text transform="translate(628.91,381.25) scale(1,1.04)" font-size="24.5">1000</text>
<rect x="629.71" y="379.10" width="5.2" height="3.6" fill="#fff" stroke="none"/><rect x="637.41" y="379.10" width="5.2" height="3.6" fill="#fff" stroke="none"/>
<text transform="translate(69.17,353.35) scale(1,1.04)" font-size="24.5">0</text>
<text transform="translate(55.55,281.80) scale(1,1.04)" font-size="24.5">50</text>
<text transform="translate(41.92,210.25) scale(1,1.04)" font-size="24.5">100</text>
<rect x="42.72" y="208.10" width="5.2" height="3.6" fill="#fff" stroke="none"/><rect x="50.42" y="208.10" width="5.2" height="3.6" fill="#fff" stroke="none"/>
<text transform="translate(41.92,138.70) scale(1,1.04)" font-size="24.5">150</text>
<rect x="42.72" y="136.55" width="5.2" height="3.6" fill="#fff" stroke="none"/><rect x="50.42" y="136.55" width="5.2" height="3.6" fill="#fff" stroke="none"/>
<text transform="translate(41.92,67.15) scale(1,1.04)" font-size="24.5">200</text>
<text transform="translate(310.65,422.70) scale(1,1.015)" font-size="24.5" font-style="italic">M</text>
<text transform="translate(333.80,426.80) scale(1,1.015)" font-size="17.5" font-style="italic">H</text>
<text transform="translate(349.18,422.40) scale(1,1.015)" font-size="11.5">+</text>
<text transform="translate(372.05,422.60) scale(1,1.015)" font-size="24.5">[GeV]</text>
<g transform="rotate(-90)">
<text transform="translate(-327.50,24.45) scale(1,1)" font-size="24.5">Γ</text>
<text transform="translate(-311.88,14.60) scale(1,1)" font-size="17.5">LO</text>
<text transform="translate(-287.80,24.45) scale(1,1)" font-size="24.5">(</text>
<text transform="translate(-271.95,24.45) scale(1,1)" font-size="24.5" font-style="italic">H</text>
<text transform="translate(-254.50,15.40) scale(1,1)" font-size="17">+</text>
<text transform="translate(-195.05,24.45) scale(1,1)" font-size="24.5" font-style="italic">H</text>
<text transform="translate(-157.72,24.45) scale(1,1)" font-size="24.5" font-style="italic">W</text>
<text transform="translate(-133.20,15.40) scale(1,1)" font-size="17">+</text>
<text transform="translate(-114.85,24.45) scale(1,1)" font-size="24.5">)</text>
<text transform="translate(-85.65,24.45) scale(1,1)" font-size="24.5">[GeV]</text>
</g>
</g>
<path d="M17.9,234.8V204.4M11.9,210.6L17.9,204.2L24.1,210.6" fill="none" stroke="#000" stroke-width="1.7" stroke-linejoin="miter"/>
<path d="M5.6,167.6L12.7,171.3" fill="none" stroke="#000" stroke-width="2"/>
<g font-family="'Liberation Mono', monospace">
<text transform="translate(573.30,66.80) scale(1,1.075)" font-size="23" fill="#00f" stroke="#00f" stroke-width="0.3">300</text><path d="M590.80,62.14L597.20,54.94" stroke="#00f" stroke-width="1.7" fill="none"/><path d="M604.61,62.14L611.01,54.94" stroke="#00f" stroke-width="1.7" fill="none"/>
<text transform="translate(573.30,209.90) scale(1,1.075)" font-size="23" fill="#f00" stroke="#f00" stroke-width="0.3">500</text><path d="M590.80,205.24L597.20,198.04" stroke="#f00" stroke-width="1.7" fill="none"/><path d="M604.61,205.24L611.01,198.04" stroke="#f00" stroke-width="1.7" fill="none"/>
<text transform="translate(543.10,308.20) scale(1,1.100)" font-size="20.5" fill="#000" stroke="#000" stroke-width="0.3">125.5</text>
<text transform="translate(603.45,351.20) scale(1,1.075)" font-size="23" fill="#f0f" stroke="#f0f" stroke-width="0.3">700</text><path d="M620.95,346.54L627.35,339.34" stroke="#f0f" stroke-width="1.7" fill="none"/><path d="M634.76,346.54L641.16,339.34" stroke="#f0f" stroke-width="1.7" fill="none"/>
</g>
</svg></body></html>
